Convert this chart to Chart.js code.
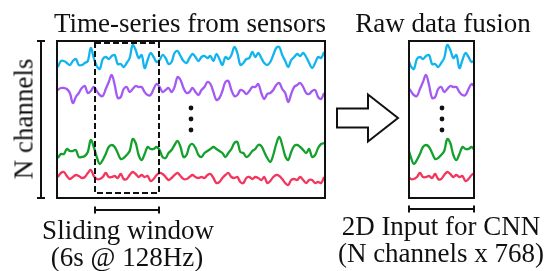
<!DOCTYPE html>
<html>
<head>
<meta charset="utf-8">
<script src="https://cdn.jsdelivr.net/npm/chart.js@4.4.1/dist/chart.umd.min.js"></script>
<style>
  html, body { margin: 0; padding: 0; background: #fff; }
  #wrap { position: relative; width: 544px; height: 271px; overflow: hidden;
          font-family: "Liberation Serif", "Times New Roman", serif; color: #111; }
  canvas { position: absolute; left: 0; top: 0; }
  .lbl { position: absolute; font-size: 27px; line-height: 27px; white-space: nowrap; transform: translateX(-50%); }
  #lblChannels { transform: translate(-50%, -50%) rotate(-90deg); }
</style>
</head>
<body>
<div id="wrap">
  <canvas id="chartSensors" width="544" height="271"></canvas>
  <canvas id="chartFusion" width="544" height="271"></canvas>
  <div class="lbl" style="left:190px;top:10px;">Time-series from sensors</div>
  <div class="lbl" style="left:443px;top:10px;">Raw data fusion</div>
  <div class="lbl" id="lblChannels" style="left:24px;top:119px;">N channels</div>
  <div class="lbl" style="left:128px;top:217px;">Sliding window</div>
  <div class="lbl" style="left:127px;top:244px;">(6s @ 128Hz)</div>
  <div class="lbl" style="left:441px;top:213px;">2D Input for CNN</div>
  <div class="lbl" style="left:441px;top:240px;">(N channels x 768)</div>
</div>

<script>
// ═══════════ DATA ═══════════
// one value per sample, amplitude around each channel's level
const channelNames = ['Channel 1', 'Channel 2', 'Channel N-1', 'Channel N'];

const cyanSeries = [
  -9, -3, -3, -5, -7, -3, -1, -7, -7, -5,
  -3, 10, 0, -8, -11, -1, 1, -1, 2, 3,
  -6, -6, -9, -5, 0, 13, 8, 0, 3, -10,
  -2, 5, 1, -4, -2, 3, 0, -6, -4, 5,
  7, 2, -3, -5, 0, 4, 1, -3, 1, 2,
  0, 2, -3, 4, -1, -7, 1, -1, 3, 11,
  5, -7, -5, -1, 0, 6, 1, 5, 0, -5,
  -7, -4, 3, 10, 11, 3, -3, -9, -2, 1,
  4, 2, 5, 1, -5, -10, -5, 1, 0, 6
];

const purpleSeries = [
  0, 2, 2, 1, -3, -13, -7, -3, 2, 4,
  -3, -1, 3, -1, -5, -6, 1, 8, 15, 5,
  -8, -7, 1, 3, -2, 1, 4, 3, 3, -2,
  -5, -5, 1, 6, 3, -2, 0, 2, -2, 3,
  13, 10, 2, -3, -2, 2, -2, -5, 0, 3,
  8, 6, -2, -10, -8, -1, 8, 9, 0, -6,
  -5, 0, -1, -4, -1, 3, 3, 6, -3, -9,
  -4, -3, 0, 5, 7, 1, -3, -12, -4, 3,
  5, 7, 3, -3, -4, -1, 0, -7, -9, -3
];

const greenSeries = [
  -8, -4, -4, 1, -1, -1, 0, -7, -7, -6,
  -2, 10, 3, -7, -14, -10, -4, 3, 5, 3,
  -3, -9, -8, -5, -1, 11, 7, -5, -10, -4,
  3, 1, 1, 3, 0, -7, -8, -3, 0, 5,
  9, 3, -7, -5, 4, 6, 2, -5, -7, -3,
  -1, 1, 3, 1, -1, -3, -7, -3, 1, 7,
  8, -2, -3, -7, -5, -1, 1, 5, 4, -2,
  -8, -12, -5, 6, 13, 5, -6, -10, -2, 4,
  5, 3, 0, -3, 1, -7, -5, 2, 6, 7
];

const redSeries = [
  1, 5, 6, 2, -1, 1, 3, 2, 0, 1,
  5, 8, 2, -1, -1, 1, 5, 1, 1, 2,
  0, 4, -1, -1, 3, 6, 4, 1, 3, 1,
  2, -3, -1, 3, 5, 4, 1, -2, 0, 3,
  5, 2, -1, -1, 1, 3, 1, 0, 1, 0,
  3, 4, 0, -5, -4, 0, 3, 5, 1, 0,
  1, -4, -5, 0, 1, -1, 1, 0, -2, 1,
  -5, -3, 1, 3, 2, -1, -5, -7, -2, -1,
  -2, 1, -2, -5, -2, -2, -5, -4, -5, 1
];

// sliding window, in sample index
const windowStart = 12.4;
const windowEnd = 33.8;

// ═══════════ STYLE ═══════════
const seriesList = [cyanSeries, purpleSeries, greenSeries, redSeries];
const channelColors = ['#12b4ee', '#a45af2', '#14a02c', '#f2365e'];
const channelLevels = [140, 108, 48, 20];
const INK = '#111';

function channelDatasets(fromIdx, toIdx, clip) {
  return seriesList.map((serie, c) => ({
    label: channelNames[c],
    data: serie.map((v, i) => ({ x: i, y: channelLevels[c] + v }))
               .filter(p => p.x >= fromIdx && p.x <= toIdx),
    borderColor: channelColors[c],
    borderWidth: 2.3,
    pointRadius: 0,
    tension: 0.38,
    fill: false,
    clip
  }));
}

// frame + vertical dots, shared by both panels
function drawPanel(chart) {
  const { ctx, chartArea: a, scales } = chart;
  ctx.save();
  ctx.strokeStyle = INK;
  ctx.lineWidth = 2;
  ctx.strokeRect(a.left, a.top, a.right - a.left, a.bottom - a.top);
  ctx.fillStyle = INK;
  const cx = Math.round((a.left + a.right) / 2);
  const cy = scales.y.getPixelForValue(79);
  [-11, 0, 11].forEach(d => {
    ctx.beginPath();
    ctx.arc(cx, cy + d, 2.4, 0, Math.PI * 2);
    ctx.fill();
  });
  ctx.restore();
}

function bracketH(ctx, x1, x2, y) {
  ctx.beginPath();
  ctx.moveTo(x1, y); ctx.lineTo(x2, y);
  ctx.moveTo(x1, y - 3.5); ctx.lineTo(x1, y + 3.5);
  ctx.moveTo(x2, y - 3.5); ctx.lineTo(x2, y + 3.5);
  ctx.stroke();
}

const sensorsPlugin = {
  id: 'sensorsDecor',
  afterDatasetsDraw(chart) {
    const { ctx, chartArea: a, scales } = chart;
    drawPanel(chart);
    const wx1 = Math.round(scales.x.getPixelForValue(windowStart));
    const wx2 = Math.round(scales.x.getPixelForValue(windowEnd));
    ctx.save();
    ctx.strokeStyle = INK;
    ctx.lineWidth = 2;
    // dashed window
    ctx.setLineDash([6, 3]);
    ctx.strokeRect(wx1, a.top + 2, wx2 - wx1, a.bottom - a.top - 7);
    ctx.setLineDash([]);
    // window bracket
    bracketH(ctx, wx1, wx2, a.bottom + 12);
    // N channels bracket
    const bx = a.left - 16;
    ctx.beginPath();
    ctx.moveTo(bx, a.top); ctx.lineTo(bx, a.bottom);
    ctx.moveTo(bx - 4, a.top); ctx.lineTo(bx + 4, a.top);
    ctx.moveTo(bx - 4, a.bottom); ctx.lineTo(bx + 4, a.bottom);
    ctx.stroke();
    // arrow
    const x0 = a.right + 12, xb = a.right + 43, xt = a.right + 73;
    const cy = (a.top + a.bottom) / 2 - 1.5;
    ctx.beginPath();
    ctx.moveTo(x0, cy - 9.5);
    ctx.lineTo(xb, cy - 9.5);
    ctx.lineTo(xb, cy - 23.5);
    ctx.lineTo(xt, cy);
    ctx.lineTo(xb, cy + 23.5);
    ctx.lineTo(xb, cy + 9.5);
    ctx.lineTo(x0, cy + 9.5);
    ctx.closePath();
    ctx.fillStyle = '#fff';
    ctx.fill();
    ctx.stroke();
    ctx.restore();
  }
};

const fusionPlugin = {
  id: 'fusionDecor',
  afterDatasetsDraw(chart) {
    const { ctx, chartArea: a } = chart;
    drawPanel(chart);
    ctx.save();
    ctx.strokeStyle = INK;
    ctx.lineWidth = 2;
    bracketH(ctx, a.left, a.right, a.bottom + 11);
    ctx.restore();
  }
};

// ═══════════ CHART HELPER ═══════════
function renderPanel(canvasId, datasets, xMin, xMax, padding, plugin) {
  return new Chart(document.getElementById(canvasId), {
    type: 'line',
    data: { datasets },
    options: {
      responsive: false,
      animation: false,
      devicePixelRatio: 1,
      layout: { padding },
      scales: {
        x: { type: 'linear', min: xMin, max: xMax, display: false },
        y: { type: 'linear', min: 0, max: 157, display: false }
      },
      plugins: { legend: { display: false }, tooltip: { enabled: false } }
    },
    plugins: [plugin]
  });
}

renderPanel('chartSensors', channelDatasets(0, seriesList[0].length - 1, 0),
  -0.3, cyanSeries.length - 0.7, { left: 57, right: 219, top: 41, bottom: 73 }, sensorsPlugin);

renderPanel('chartFusion', channelDatasets(Math.floor(windowStart), Math.ceil(windowEnd), -1),
  windowStart, windowEnd, { left: 409, right: 70, top: 41, bottom: 73 }, fusionPlugin);
</script>
</body>
</html>
